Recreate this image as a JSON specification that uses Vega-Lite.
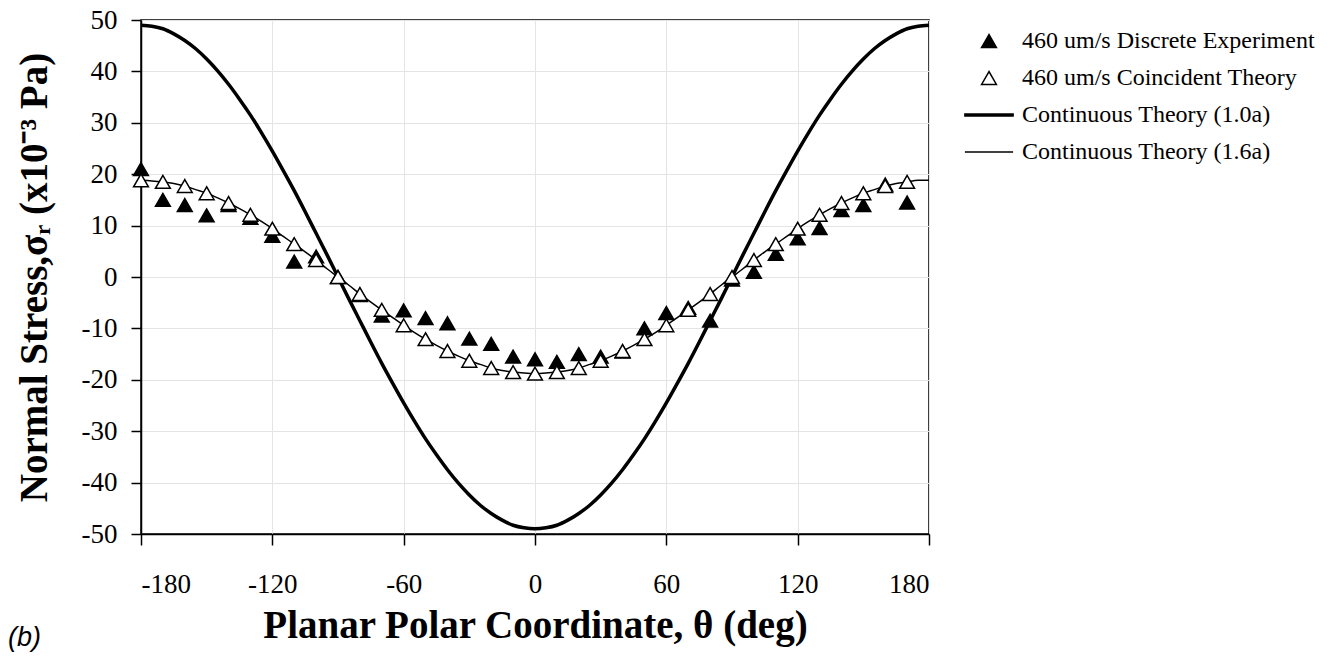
{
  "$schema": "https://vega.github.io/schema/vega-lite/v6.json",
  "autosize": "none",
  "width": 788,
  "height": 514,
  "padding": {"left": 141, "top": 20, "right": 406, "bottom": 129},
  "background": "white",
  "config": {
    "view": {"stroke": "black", "strokeWidth": 1.5},
    "font": "Liberation Serif",
    "locale": {
      "number": {"decimal": ".", "thousands": ",", "grouping": [3], "currency": ["$", ""], "minus": "-"}
    }
  },
  "title": {
    "text": "(b)",
    "orient": "bottom",
    "anchor": "start",
    "frame": "bounds",
    "font": "Liberation Sans",
    "fontStyle": "italic",
    "fontWeight": "normal",
    "fontSize": 27,
    "offset": -20,
    "dx": -7
  },
  "datasets": {
    "pts": [
      {"theta": -180, "value": 21, "series": "460 um/s Discrete Experiment"},
      {"theta": -170, "value": 15, "series": "460 um/s Discrete Experiment"},
      {"theta": -160, "value": 14, "series": "460 um/s Discrete Experiment"},
      {"theta": -150, "value": 12, "series": "460 um/s Discrete Experiment"},
      {"theta": -140, "value": 14, "series": "460 um/s Discrete Experiment"},
      {"theta": -130, "value": 11.5, "series": "460 um/s Discrete Experiment"},
      {"theta": -120, "value": 8, "series": "460 um/s Discrete Experiment"},
      {"theta": -110, "value": 3, "series": "460 um/s Discrete Experiment"},
      {"theta": -100, "value": 4, "series": "460 um/s Discrete Experiment"},
      {"theta": -90, "value": 0, "series": "460 um/s Discrete Experiment"},
      {"theta": -80, "value": -3.5, "series": "460 um/s Discrete Experiment"},
      {"theta": -70, "value": -7.5, "series": "460 um/s Discrete Experiment"},
      {"theta": -60, "value": -6.5, "series": "460 um/s Discrete Experiment"},
      {"theta": -50, "value": -8, "series": "460 um/s Discrete Experiment"},
      {"theta": -40, "value": -9, "series": "460 um/s Discrete Experiment"},
      {"theta": -30, "value": -12, "series": "460 um/s Discrete Experiment"},
      {"theta": -20, "value": -13, "series": "460 um/s Discrete Experiment"},
      {"theta": -10, "value": -15.5, "series": "460 um/s Discrete Experiment"},
      {"theta": 0, "value": -16, "series": "460 um/s Discrete Experiment"},
      {"theta": 10, "value": -16.5, "series": "460 um/s Discrete Experiment"},
      {"theta": 20, "value": -15, "series": "460 um/s Discrete Experiment"},
      {"theta": 30, "value": -15.5, "series": "460 um/s Discrete Experiment"},
      {"theta": 40, "value": -14.5, "series": "460 um/s Discrete Experiment"},
      {"theta": 50, "value": -10, "series": "460 um/s Discrete Experiment"},
      {"theta": 60, "value": -7, "series": "460 um/s Discrete Experiment"},
      {"theta": 70, "value": -6, "series": "460 um/s Discrete Experiment"},
      {"theta": 80, "value": -8.5, "series": "460 um/s Discrete Experiment"},
      {"theta": 90, "value": -0.5, "series": "460 um/s Discrete Experiment"},
      {"theta": 100, "value": 1, "series": "460 um/s Discrete Experiment"},
      {"theta": 110, "value": 4.5, "series": "460 um/s Discrete Experiment"},
      {"theta": 120, "value": 7.5, "series": "460 um/s Discrete Experiment"},
      {"theta": 130, "value": 9.5, "series": "460 um/s Discrete Experiment"},
      {"theta": 140, "value": 13, "series": "460 um/s Discrete Experiment"},
      {"theta": 150, "value": 14, "series": "460 um/s Discrete Experiment"},
      {"theta": 160, "value": 18, "series": "460 um/s Discrete Experiment"},
      {"theta": 170, "value": 14.5, "series": "460 um/s Discrete Experiment"},
      {"theta": -180, "value": 18.8, "series": "460 um/s Coincident Theory"},
      {"theta": -170, "value": 18.5, "series": "460 um/s Coincident Theory"},
      {"theta": -160, "value": 17.7, "series": "460 um/s Coincident Theory"},
      {"theta": -150, "value": 16.3, "series": "460 um/s Coincident Theory"},
      {"theta": -140, "value": 14.4, "series": "460 um/s Coincident Theory"},
      {"theta": -130, "value": 12.1, "series": "460 um/s Coincident Theory"},
      {"theta": -120, "value": 9.4, "series": "460 um/s Coincident Theory"},
      {"theta": -110, "value": 6.4, "series": "460 um/s Coincident Theory"},
      {"theta": -100, "value": 3.3, "series": "460 um/s Coincident Theory"},
      {"theta": -90, "value": 0, "series": "460 um/s Coincident Theory"},
      {"theta": -80, "value": -3.3, "series": "460 um/s Coincident Theory"},
      {"theta": -70, "value": -6.4, "series": "460 um/s Coincident Theory"},
      {"theta": -60, "value": -9.4, "series": "460 um/s Coincident Theory"},
      {"theta": -50, "value": -12.1, "series": "460 um/s Coincident Theory"},
      {"theta": -40, "value": -14.4, "series": "460 um/s Coincident Theory"},
      {"theta": -30, "value": -16.3, "series": "460 um/s Coincident Theory"},
      {"theta": -20, "value": -17.7, "series": "460 um/s Coincident Theory"},
      {"theta": -10, "value": -18.5, "series": "460 um/s Coincident Theory"},
      {"theta": 0, "value": -18.8, "series": "460 um/s Coincident Theory"},
      {"theta": 10, "value": -18.5, "series": "460 um/s Coincident Theory"},
      {"theta": 20, "value": -17.7, "series": "460 um/s Coincident Theory"},
      {"theta": 30, "value": -16.3, "series": "460 um/s Coincident Theory"},
      {"theta": 40, "value": -14.4, "series": "460 um/s Coincident Theory"},
      {"theta": 50, "value": -12.1, "series": "460 um/s Coincident Theory"},
      {"theta": 60, "value": -9.4, "series": "460 um/s Coincident Theory"},
      {"theta": 70, "value": -6.4, "series": "460 um/s Coincident Theory"},
      {"theta": 80, "value": -3.3, "series": "460 um/s Coincident Theory"},
      {"theta": 90, "value": 0, "series": "460 um/s Coincident Theory"},
      {"theta": 100, "value": 3.3, "series": "460 um/s Coincident Theory"},
      {"theta": 110, "value": 6.4, "series": "460 um/s Coincident Theory"},
      {"theta": 120, "value": 9.4, "series": "460 um/s Coincident Theory"},
      {"theta": 130, "value": 12.1, "series": "460 um/s Coincident Theory"},
      {"theta": 140, "value": 14.4, "series": "460 um/s Coincident Theory"},
      {"theta": 150, "value": 16.3, "series": "460 um/s Coincident Theory"},
      {"theta": 160, "value": 17.7, "series": "460 um/s Coincident Theory"},
      {"theta": 170, "value": 18.5, "series": "460 um/s Coincident Theory"}
    ],
    "thick": [
      {"theta": -180, "value": 49.0}, {"theta": -175, "value": 48.8}, {"theta": -170, "value": 48.3}, {"theta": -165, "value": 47.3},
      {"theta": -160, "value": 46.0}, {"theta": -155, "value": 44.4}, {"theta": -150, "value": 42.4}, {"theta": -145, "value": 40.1},
      {"theta": -140, "value": 37.5}, {"theta": -135, "value": 34.6}, {"theta": -130, "value": 31.5}, {"theta": -125, "value": 28.1},
      {"theta": -120, "value": 24.5}, {"theta": -115, "value": 20.7}, {"theta": -110, "value": 16.8}, {"theta": -105, "value": 12.7},
      {"theta": -100, "value": 8.5}, {"theta": -95, "value": 4.3}, {"theta": -90, "value": 0}, {"theta": -85, "value": -4.3},
      {"theta": -80, "value": -8.5}, {"theta": -75, "value": -12.7}, {"theta": -70, "value": -16.8}, {"theta": -65, "value": -20.7},
      {"theta": -60, "value": -24.5}, {"theta": -55, "value": -28.1}, {"theta": -50, "value": -31.5}, {"theta": -45, "value": -34.6},
      {"theta": -40, "value": -37.5}, {"theta": -35, "value": -40.1}, {"theta": -30, "value": -42.4}, {"theta": -25, "value": -44.4},
      {"theta": -20, "value": -46.0}, {"theta": -15, "value": -47.3}, {"theta": -10, "value": -48.3}, {"theta": -5, "value": -48.8},
      {"theta": 0, "value": -49.0}, {"theta": 5, "value": -48.8}, {"theta": 10, "value": -48.3}, {"theta": 15, "value": -47.3},
      {"theta": 20, "value": -46.0}, {"theta": 25, "value": -44.4}, {"theta": 30, "value": -42.4}, {"theta": 35, "value": -40.1},
      {"theta": 40, "value": -37.5}, {"theta": 45, "value": -34.6}, {"theta": 50, "value": -31.5}, {"theta": 55, "value": -28.1},
      {"theta": 60, "value": -24.5}, {"theta": 65, "value": -20.7}, {"theta": 70, "value": -16.8}, {"theta": 75, "value": -12.7},
      {"theta": 80, "value": -8.5}, {"theta": 85, "value": -4.3}, {"theta": 90, "value": 0}, {"theta": 95, "value": 4.3},
      {"theta": 100, "value": 8.5}, {"theta": 105, "value": 12.7}, {"theta": 110, "value": 16.8}, {"theta": 115, "value": 20.7},
      {"theta": 120, "value": 24.5}, {"theta": 125, "value": 28.1}, {"theta": 130, "value": 31.5}, {"theta": 135, "value": 34.6},
      {"theta": 140, "value": 37.5}, {"theta": 145, "value": 40.1}, {"theta": 150, "value": 42.4}, {"theta": 155, "value": 44.4},
      {"theta": 160, "value": 46.0}, {"theta": 165, "value": 47.3}, {"theta": 170, "value": 48.3}, {"theta": 175, "value": 48.8},
      {"theta": 180, "value": 49.0}
    ],
    "thin": [
      {"theta": -180, "value": 18.8}, {"theta": -175, "value": 18.7}, {"theta": -170, "value": 18.5}, {"theta": -165, "value": 18.2},
      {"theta": -160, "value": 17.7}, {"theta": -155, "value": 17.0}, {"theta": -150, "value": 16.3}, {"theta": -145, "value": 15.4},
      {"theta": -140, "value": 14.4}, {"theta": -135, "value": 13.3}, {"theta": -130, "value": 12.1}, {"theta": -125, "value": 10.8},
      {"theta": -120, "value": 9.4}, {"theta": -115, "value": 7.9}, {"theta": -110, "value": 6.4}, {"theta": -105, "value": 4.9},
      {"theta": -100, "value": 3.3}, {"theta": -95, "value": 1.6}, {"theta": -90, "value": 0}, {"theta": -85, "value": -1.6},
      {"theta": -80, "value": -3.3}, {"theta": -75, "value": -4.9}, {"theta": -70, "value": -6.4}, {"theta": -65, "value": -7.9},
      {"theta": -60, "value": -9.4}, {"theta": -55, "value": -10.8}, {"theta": -50, "value": -12.1}, {"theta": -45, "value": -13.3},
      {"theta": -40, "value": -14.4}, {"theta": -35, "value": -15.4}, {"theta": -30, "value": -16.3}, {"theta": -25, "value": -17.0},
      {"theta": -20, "value": -17.7}, {"theta": -15, "value": -18.2}, {"theta": -10, "value": -18.5}, {"theta": -5, "value": -18.7},
      {"theta": 0, "value": -18.8}, {"theta": 5, "value": -18.7}, {"theta": 10, "value": -18.5}, {"theta": 15, "value": -18.2},
      {"theta": 20, "value": -17.7}, {"theta": 25, "value": -17.0}, {"theta": 30, "value": -16.3}, {"theta": 35, "value": -15.4},
      {"theta": 40, "value": -14.4}, {"theta": 45, "value": -13.3}, {"theta": 50, "value": -12.1}, {"theta": 55, "value": -10.8},
      {"theta": 60, "value": -9.4}, {"theta": 65, "value": -7.9}, {"theta": 70, "value": -6.4}, {"theta": 75, "value": -4.9},
      {"theta": 80, "value": -3.3}, {"theta": 85, "value": -1.6}, {"theta": 90, "value": 0}, {"theta": 95, "value": 1.6},
      {"theta": 100, "value": 3.3}, {"theta": 105, "value": 4.9}, {"theta": 110, "value": 6.4}, {"theta": 115, "value": 7.9},
      {"theta": 120, "value": 9.4}, {"theta": 125, "value": 10.8}, {"theta": 130, "value": 12.1}, {"theta": 135, "value": 13.3},
      {"theta": 140, "value": 14.4}, {"theta": 145, "value": 15.4}, {"theta": 150, "value": 16.3}, {"theta": 155, "value": 17.0},
      {"theta": 160, "value": 17.7}, {"theta": 165, "value": 18.2}, {"theta": 170, "value": 18.5}, {"theta": 175, "value": 18.8},
      {"theta": 180, "value": 18.8}
    ]
  },
  "encoding": {
    "x": {
      "field": "theta", "type": "quantitative",
      "scale": {"domain": [-180, 180], "nice": false, "zero": false},
      "axis": {
        "values": [-180, -120, -60, 0, 60, 120, 180],
        "labelExpr": "[' ', datum.label]",
        "labelLineHeight": 26,
        "title": "Planar Polar Coordinate, θ (deg)",
        "titleFont": "Liberation Serif", "titleFontWeight": "bold", "titleFontSize": 39, "titleColor": "black",
        "titlePadding": 9,
        "labelFont": "Liberation Serif", "labelFontSize": 27, "labelColor": "black", "labelPadding": 0, "labelBaseline": "top",
        "domainColor": "black", "domainWidth": 1.5, "tickColor": "black", "tickWidth": 1.5, "tickSize": 11,
        "gridColor": "#e4e4e4", "gridWidth": 1
      }
    },
    "y": {
      "field": "value", "type": "quantitative",
      "scale": {"domain": [-50, 50], "nice": false},
      "axis": {
        "values": [-50, -40, -30, -20, -10, 0, 10, 20, 30, 40, 50],
        "title": "Normal Stress,σᵣ (x10⁻³ Pa)",
        "titleFont": "Liberation Serif", "titleFontWeight": "bold", "titleFontSize": 39, "titleColor": "black",
        "titlePadding": 27,
        "labelFont": "Liberation Serif", "labelFontSize": 27, "labelColor": "black", "labelPadding": 14,
        "domainColor": "black", "domainWidth": 1.5, "tickColor": "black", "tickWidth": 1.5, "tickSize": 10,
        "gridColor": "#e4e4e4", "gridWidth": 1
      }
    }
  },
  "layer": [
    {
      "data": {"name": "thick"},
      "mark": {"type": "line", "color": "black", "strokeWidth": 3.5, "interpolate": "monotone"},
      "encoding": {}
    },
    {
      "data": {"name": "thin"},
      "mark": {"type": "line", "color": "black", "strokeWidth": 1.5, "interpolate": "monotone"},
      "encoding": {}
    },
    {
      "data": {"name": "pts"},
      "mark": {"type": "point", "stroke": "black", "strokeWidth": 1.5, "opacity": 1, "filled": false},
      "encoding": {
        "shape": {
          "field": "series", "type": "nominal",
          "scale": {
            "domain": ["460 um/s Discrete Experiment", "460 um/s Coincident Theory", "Continuous Theory (1.0a)", "Continuous Theory (1.6a)"],
            "range": ["triangle-up", "triangle-up", "M-3.25,-0.14H3.25V0.14H-3.25Z", "M-3.25,0H3.25"]
          },
          "legend": {
            "title": null, "orient": "right", "offset": 39, "padding": 9,
            "labelFont": "Liberation Serif", "labelFontSize": 24, "labelColor": "black", "labelOffset": 21,
            "rowPadding": 13, "symbolStrokeColor": "black", "symbolStrokeWidth": 1.5, "labelLimit": 420
          }
        },
        "fill": {
          "field": "series", "type": "nominal",
          "scale": {
            "domain": ["460 um/s Discrete Experiment", "460 um/s Coincident Theory", "Continuous Theory (1.0a)", "Continuous Theory (1.6a)"],
            "range": ["black", "white", "black", "black"]
          }
        },
        "size": {
          "field": "series", "type": "nominal",
          "scale": {
            "domain": ["460 um/s Discrete Experiment", "460 um/s Coincident Theory", "Continuous Theory (1.0a)", "Continuous Theory (1.6a)"],
            "range": [220, 220, 576, 576]
          }
        }
      }
    }
  ]
}
